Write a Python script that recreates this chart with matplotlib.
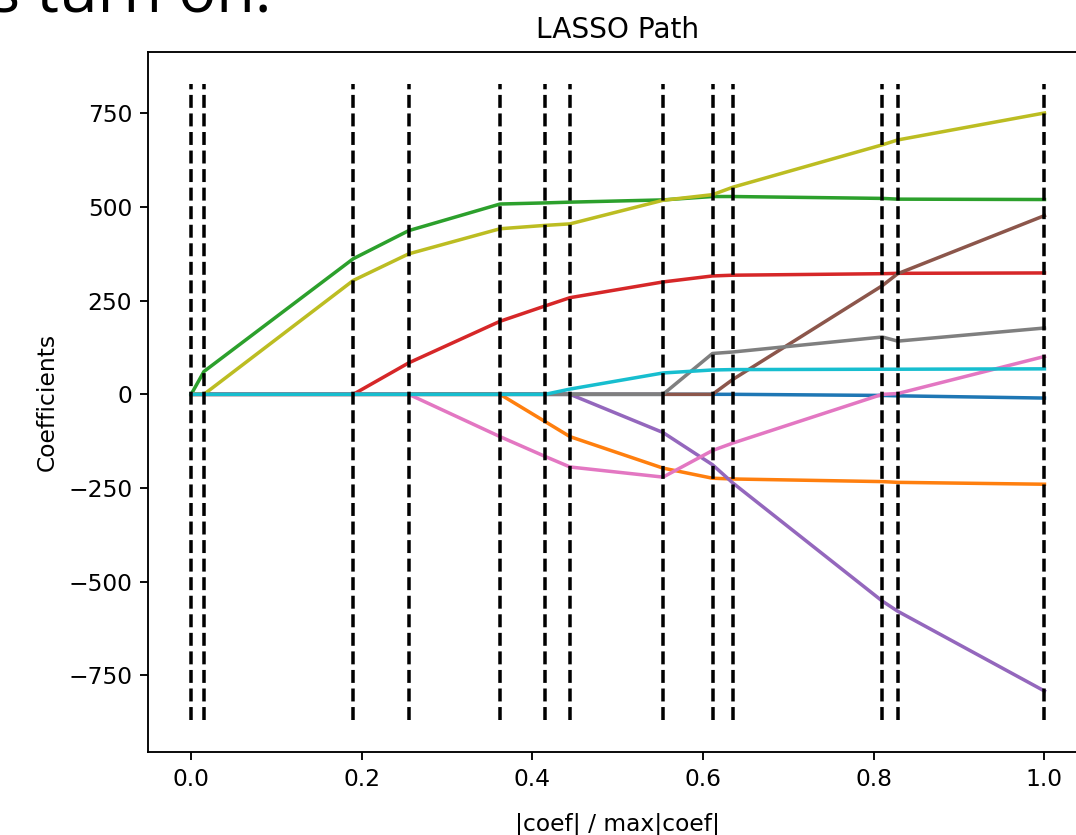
import numpy as np
import matplotlib
matplotlib.use('Agg')
import matplotlib.pyplot as plt

# breakpoints of the path (|coef| / max|coef|)
xx = [0.0, 0.015, 0.190, 0.255, 0.362, 0.415, 0.444, 0.553, 0.611, 0.635, 0.810, 0.828, 1.0]

# coefficient of each feature at each breakpoint (C0..C9)
age = [0, 0, 0, 0, 0, 0, 0, 0, 0, 0, -3, -4, -10]
sex = [0, 0, 0, 0, 0, -73, -113, -197, -224, -226, -233, -235, -240]
bmi = [0, 61, 362, 437, 508, 511, 513, 519, 528, 528, 523, 521, 520]
bp = [0, 0, 0, 84, 195, 236, 258, 300, 316, 318, 322, 323, 324]
s1 = [0, 0, 0, 0, 0, 0, 0, -102, -188, -237, -552, -579, -792]
s2 = [0, 0, 0, 0, 0, 0, 0, 0, 0, 40, 290, 322, 477]
s3 = [0, 0, 0, 0, -113, -166, -194, -221, -150, -130, 0, 2, 101]
s4 = [0, 0, 0, 0, 0, 0, 0, 0, 109, 113, 153, 142, 177]
s5 = [0, 0, 304, 375, 442, 451, 455, 518, 533, 553, 666, 679, 751]
s6 = [0, 0, 0, 0, 0, 0, 14, 57, 65, 66, 67, 67, 68]

coefs = np.array([age, sex, bmi, bp, s1, s2, s3, s4, s5, s6])

dpi = 168
fig = plt.figure(figsize=(1076 / dpi, 835 / dpi), dpi=dpi)
# the screenshot is cropped on the right, so the axes stop at the figure edge
ax = fig.add_axes([148.5 / 1076, 1 - 751.7 / 835, (1076 - 148.5) / 1076, (751.7 - 52.3) / 835])

ax.plot(xx, coefs.T)
ymin, ymax = ax.get_ylim()
ax.vlines(xx, ymin, ymax, linestyle='dashed', colors='k')

ax.set_xlim(-0.05, 1.037)
ax.set_xlabel('|coef| / max|coef|')
ax.xaxis.set_label_coords(0.5 * 1.1 / 1.087, -0.087)
ax.set_ylabel('Coefficients')
ax.set_title('LASSO Path', x=0.5 * 1.1 / 1.087)
ax.set_xticks([0.0, 0.2, 0.4, 0.6, 0.8, 1.0])
ax.set_yticks([-750, -500, -250, 0, 250, 500, 750])
ax.spines['right'].set_visible(False)

# leftover slide text cut off at the top
fig.text(272 / 1076, 1 - 12 / 835, 's turn on:', ha='right', va='baseline',
         fontsize=27, family=['Open Sans', 'DejaVu Sans'])

fig.savefig('out.png', dpi=dpi)
